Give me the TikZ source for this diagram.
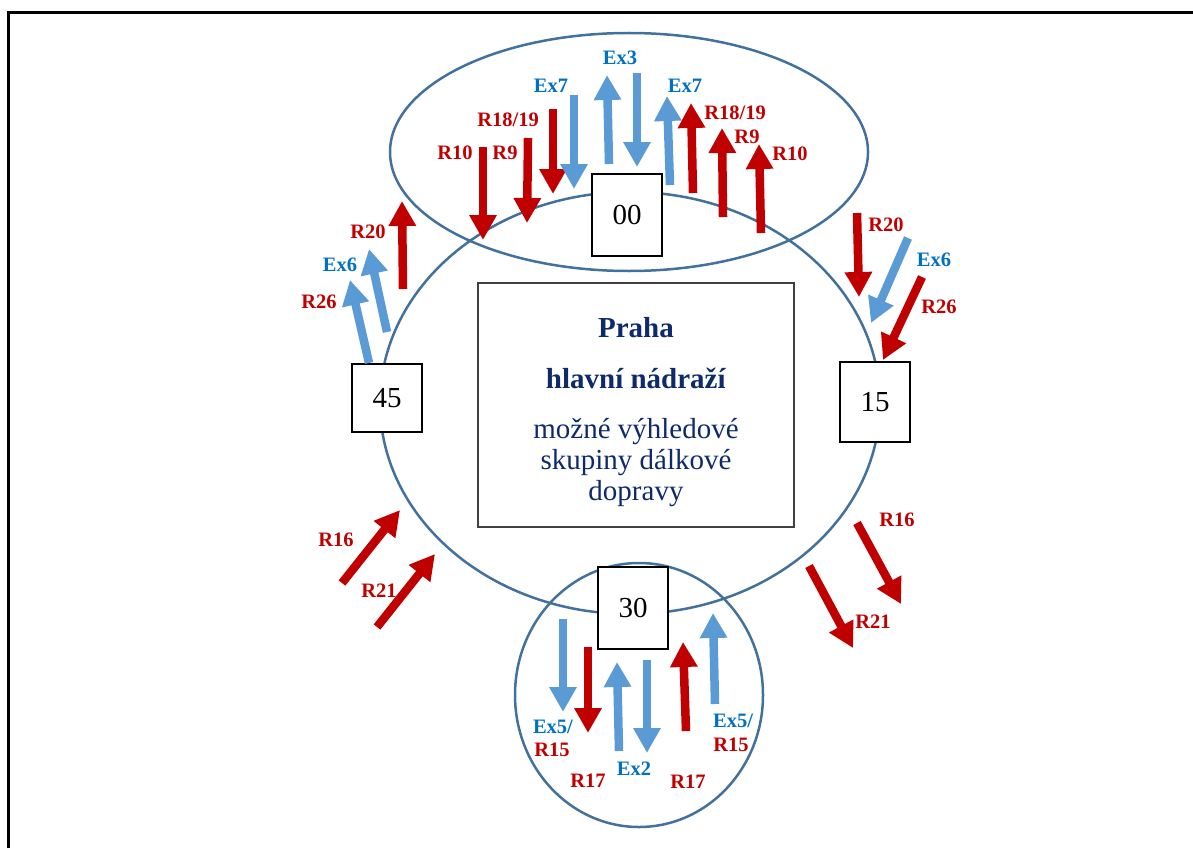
\documentclass[tikz,border=0pt]{standalone}
\usepackage{fontspec}
\setmainfont{Liberation Serif}
\usetikzlibrary{arrows.meta}
\definecolor{flowred}{HTML}{C00000}
\definecolor{flowblue}{HTML}{5B9BD5}
\definecolor{labblue}{HTML}{0070C0}
\definecolor{ringblue}{HTML}{41719C}
\definecolor{hubtext}{HTML}{0E2A6B}

\tikzset{
  ring/.style={draw=ringblue,line width=2.5pt},
  hour/.style={draw,fill=white,line width=1.5pt,minimum width=70pt,minimum height=82pt,
    inner sep=0pt,font=\fontsize{29}{31}\selectfont},
  redflow/.style={->,flowred,line width=8.5pt},
  blueflow/.style={->,flowblue,line width=8.5pt},
  lab/.style={inner sep=0pt,text height=13.6pt,text depth=0pt,
    font=\bfseries\fontsize{20.5}{22}\selectfont},
  rlab/.style={lab,text=flowred},
  blab/.style={lab,text=labblue}
}

\begin{document}
\begin{tikzpicture}[x=1pt,y=-1pt,>={Triangle[width=26pt,length=25pt]}]
\useasboundingbox (0,0) rectangle (1193,848);
% frame (cut at the right and bottom)
\draw[line width=3pt] (8.5,848) -- (8.5,13) -- (1193,13);

% rings
\draw[ring] (629,152) ellipse [x radius=239pt,y radius=119pt];
\draw[ring] (630,403) ellipse [x radius=250pt,y radius=211pt];
\draw[ring] (639,695) ellipse [x radius=124pt,y radius=132pt];

% station
\node[draw=black!75,line width=1.5pt,minimum width=316pt,minimum height=244pt] (hub) at (636,405) {};
\node[text=hubtext,align=center,inner sep=0pt,font=\fontsize{29}{31}\selectfont] (hubtxt) at (636,412)
  {\textbf{Praha}\\[20pt] \textbf{hlavní nádraží}\\[19pt] možné výhledové\\ skupiny dálkové\\ dopravy};

% clock faces
\node[hour] (h00) at (627,215) {00};
\node[hour,minimum height=68pt] (h45) at (387,398) {45};
\node[hour,minimum height=80pt] (h15) at (875,402) {15};
\node[hour] (h30) at (633,608) {30};

% regional lines
\foreach \n/\xa/\ya/\xb/\yb in {1/483/147/483/240, 2/528/138/527/223, 3/553/109/553/194,
    4/693/193/691/103, 5/723/217/722/128, 6/761/233/759/144, 7/403/289/402/201,
    8/857/213/859/297, 9/922/277/883/360, 10/342/583/400/510, 11/377/627/435/554,
    12/857/523/901/604, 13/809/566/853/648, 14/588/647/588/733, 15/686/731/683/642}
{
  \coordinate (r\n a) at (\xa,\ya);
  \coordinate (r\n b) at (\xb,\yb);
  \draw[redflow] (r\n a) -- (r\n b);
}

% express lines
\foreach \n/\xa/\ya/\xb/\yb in {1/574/95/574/189, 2/609/164/607/75, 3/637/73/637/167,
    4/670/185/667/96, 5/387/332/369/249, 6/369/363/350/280, 7/908/238/871/323,
    8/563/619/563/712, 9/619/751/617/662, 10/647/660/647/753, 11/715/704/713/613}
{
  \coordinate (e\n a) at (\xa,\ya);
  \coordinate (e\n b) at (\xb,\yb);
  \draw[blueflow] (e\n a) -- (e\n b);
}

% labels
\node[rlab] (lr10) at (455,153) {R10};
\node[rlab] (lr9) at (505,153) {R9};
\node[rlab] (lr1819) at (508,120) {R18/19};
\node[blab] (lex7) at (551,86) {Ex7};
\node[blab] (lex3) at (620,58) {Ex3};
\node[blab] (rex7) at (685,86) {Ex7};
\node[rlab] (rr1819) at (735,113) {R18/19};
\node[rlab] (rr9) at (747,137) {R9};
\node[rlab] (rr10) at (790,154) {R10};
\node[rlab] (lr20) at (368,232) {R20};
\node[blab] (lex6) at (340,265) {Ex6};
\node[rlab] (lr26) at (319,302) {R26};
\node[rlab] (rr20) at (886,225) {R20};
\node[blab] (rex6) at (934,260) {Ex6};
\node[rlab] (rr26) at (939,307) {R26};
\node[rlab] (lr16) at (336,540) {R16};
\node[rlab] (lr21) at (379,591) {R21};
\node[rlab] (rr16) at (897,520) {R16};
\node[rlab] (rr21) at (873,622) {R21};
\node[blab] (lex5) at (553,727) {Ex5/};
\node[rlab] (lr15) at (552,750) {R15};
\node[rlab] (lr17) at (588,781) {R17};
\node[blab] (lex2) at (634,769) {Ex2};
\node[rlab] (rr17) at (688,782) {R17};
\node[blab] (rex5) at (733,721) {Ex5/};
\node[rlab] (rr15) at (731,745) {R15};
\end{tikzpicture}
\end{document}
